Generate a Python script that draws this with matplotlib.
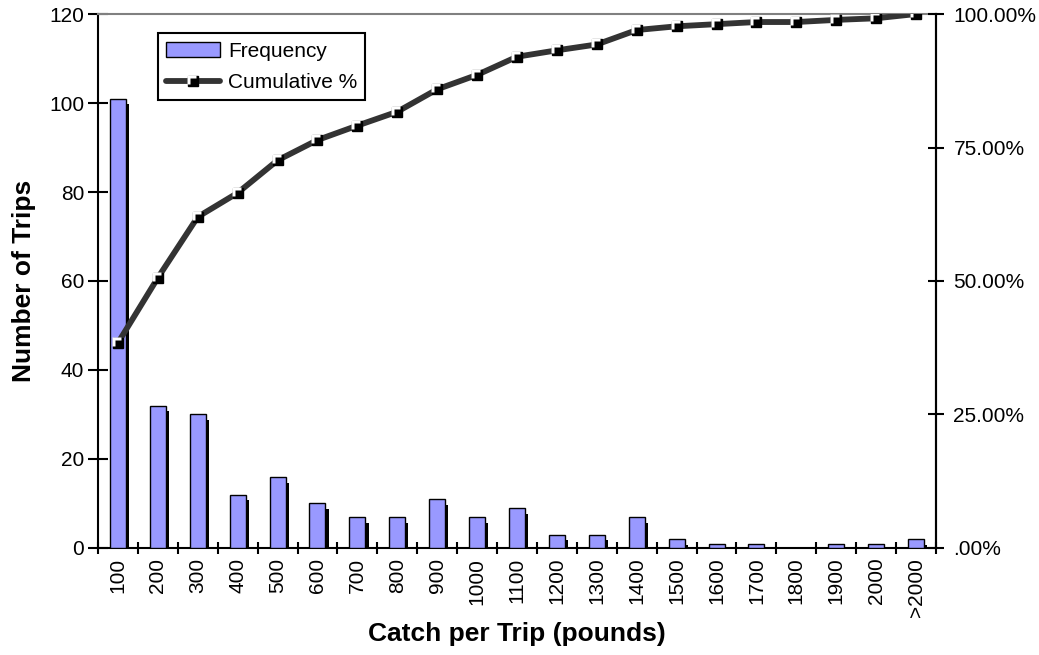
import numpy as np
import matplotlib.pyplot as plt
from matplotlib.path import Path
from matplotlib.ticker import FixedLocator, FuncFormatter

plt.rcParams['font.family'] = ['Liberation Sans', 'DejaVu Sans']

bins = ["100", "200", "300", "400", "500", "600", "700", "800", "900", "1000",
        "1100", "1200", "1300", "1400", "1500", "1600", "1700", "1800", "1900",
        "2000", ">2000"]
frequency = [101, 32, 30, 12, 16, 10, 7, 7, 11, 7, 9, 3, 3, 7, 2, 1, 1, 0, 1, 1, 2]
cumulative_pct = [38.4, 50.6, 62.0, 66.5, 72.6, 76.4, 79.1, 81.7, 85.9, 88.6,
                  92.0, 93.2, 94.3, 97.0, 97.7, 98.1, 98.5, 98.5, 98.9, 99.2, 100.0]

x = np.arange(len(bins))
fig = plt.figure(figsize=(10.39, 6.55), dpi=100)
ax = fig.add_axes([0.0943, 0.1634, 0.8066, 0.8152])

# bars with a black drop shadow
shadow = [max(v - 1.3, 0) for v in frequency]
ax.bar(x + 0.08, shadow, width=0.4, color='black', zorder=2)
bars = ax.bar(x, frequency, width=0.4, color='#9999ff', edgecolor='black',
              linewidth=1, zorder=3, label='Frequency')

ax.set_xlim(-0.5, len(bins) - 0.5)
ax.set_ylim(0, 120)
ax.set_yticks(range(0, 121, 20))
ax.set_xticks(x)
ax.set_xticklabels(bins, rotation=90)
ax.xaxis.set_minor_locator(FixedLocator(np.arange(-0.5, len(bins), 1)))
ax.tick_params(axis='x', which='major', length=0, pad=7, labelsize=15)
ax.tick_params(axis='x', which='minor', direction='inout', length=9, width=1.5)
ax.tick_params(axis='y', direction='inout', length=14, width=1.5, labelsize=15, pad=3)
ax.set_ylabel("Number of Trips", fontsize=19, fontweight='bold', labelpad=9)
ax.set_xlabel("Catch per Trip (pounds)", fontsize=19, fontweight='bold', labelpad=4)

for s in ['left', 'bottom', 'right']:
    ax.spines[s].set_linewidth(1.5)
ax.spines['top'].set_color('#808080')
ax.spines['top'].set_linewidth(1.5)

ax2 = ax.twinx()
ax2.set_ylim(0, 100)
ax2.set_yticks([0, 25, 50, 75, 100])
ax2.yaxis.set_major_formatter(FuncFormatter(
    lambda v, p: ".00%" if v == 0 else f"{v:.2f}%"))
ax2.tick_params(axis='y', direction='inout', length=11, width=1.5, labelsize=15, pad=7)
ax2.spines['right'].set_linewidth(1.5)
ax2.spines['top'].set_visible(False)
ax2.spines['left'].set_visible(False)
ax2.spines['bottom'].set_visible(False)

line, = ax2.plot(x, cumulative_pct, color='#333333', lw=4.2, marker='s', ms=7.5,
                 mfc='black', mec='black', zorder=4, label='Cumulative %',
                 solid_capstyle='round')
# white corner highlight inside each marker
corner = Path([(-0.6, 0.6), (0.35, 0.6), (0.35, 0.3), (-0.3, 0.3), (-0.3, -0.35),
               (-0.6, -0.35), (-0.6, 0.6)])
hl, = ax2.plot(x, cumulative_pct, ls='none', marker=corner, ms=8.5, mfc='white',
               mec='none', zorder=5)

leg = ax2.legend([bars, (line, hl)], ['Frequency', 'Cumulative %'], loc='upper left',
                 bbox_to_anchor=(0.0716, 0.964), borderaxespad=0, fontsize=15,
                 fancybox=False, framealpha=1, edgecolor='black',
                 handlelength=2.6, handletextpad=0.35, borderpad=0.4,
                 labelspacing=0.6)
leg.get_frame().set_linewidth(1.5)

plt.savefig("out.png", dpi=100)
